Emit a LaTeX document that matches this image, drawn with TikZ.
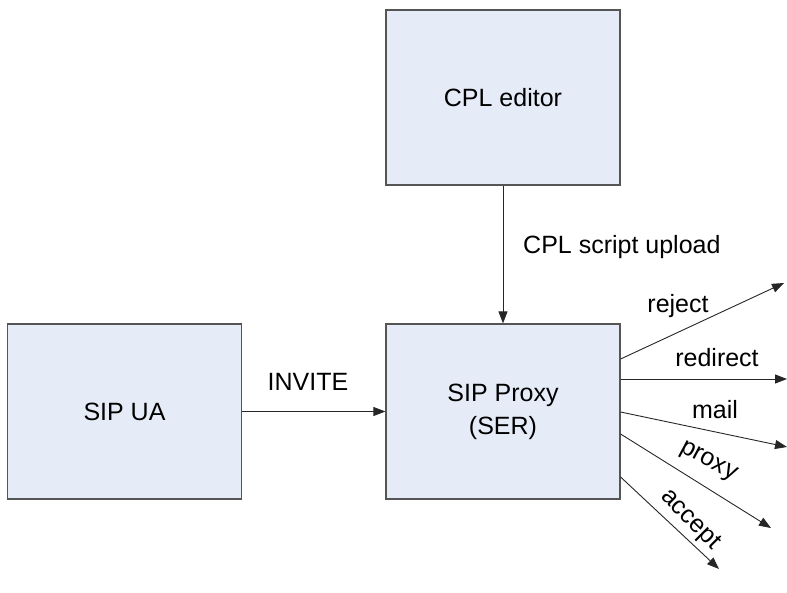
\documentclass[tikz,border=0pt]{standalone}
\usepackage{fontspec}
\setmainfont{Liberation Sans}
\usetikzlibrary{arrows.meta}
\definecolor{boxfill}{HTML}{E6ECF7}
\definecolor{boxline}{HTML}{555555}
\tikzset{
  block/.style={draw=boxline, line width=1.2pt, fill=boxfill, minimum width=234pt, minimum height=175pt, inner sep=0pt, align=center, font=\fontsize{25}{33}\selectfont},
  flow/.style={draw=black!85, line width=0.9pt, -{Triangle[length=12pt,width=9pt]}},
  lbl/.style={font=\fontsize{25}{30}\selectfont, inner sep=0pt}
}
\begin{document}
\begin{tikzpicture}[x=1pt,y=-1pt]
  \useasboundingbox (0,0) rectangle (787,592);
  % the three boxes
  \node[block] (ua) at (124.5,411.5) {SIP UA};
  \node[block] (editor) at (503,97.5) {CPL editor};
  \node[block] (proxy) at (503,411.5) {SIP Proxy\\(SER)};
  % free ends of the outgoing branches
  \coordinate (reject) at (784,283);
  \coordinate (redirect) at (787,379);
  \coordinate (mail) at (787,447);
  \coordinate (prox) at (771,528);
  \coordinate (accept) at (719,569);
  % main connectors
  \draw[flow] (ua.east) -- (proxy.west);
  \node[lbl] at (308,382) {INVITE};
  \draw[flow] (editor.south) -- (proxy.north);
  \node[lbl, anchor=west] at (523,247) {CPL script upload};
  % branches out of the proxy
  \draw[flow] (proxy.east |- 0,359) -- (reject);
  \draw[flow] (proxy.east |- 0,379) -- (redirect);
  \draw[flow] (proxy.east |- 0,412) -- (mail);
  \draw[flow] (proxy.east |- 0,434) -- (prox);
  \draw[flow] (proxy.east |- 0,477) -- (accept);
  \node[lbl] at (678,306) {reject};
  \node[lbl] at (717,358) {redirect};
  \node[lbl] at (715,410) {mail};
  \node[lbl, rotate=-28] at (708,462) {proxy};
  \node[lbl, rotate=-45] at (690,520) {accept};
\end{tikzpicture}
\end{document}
